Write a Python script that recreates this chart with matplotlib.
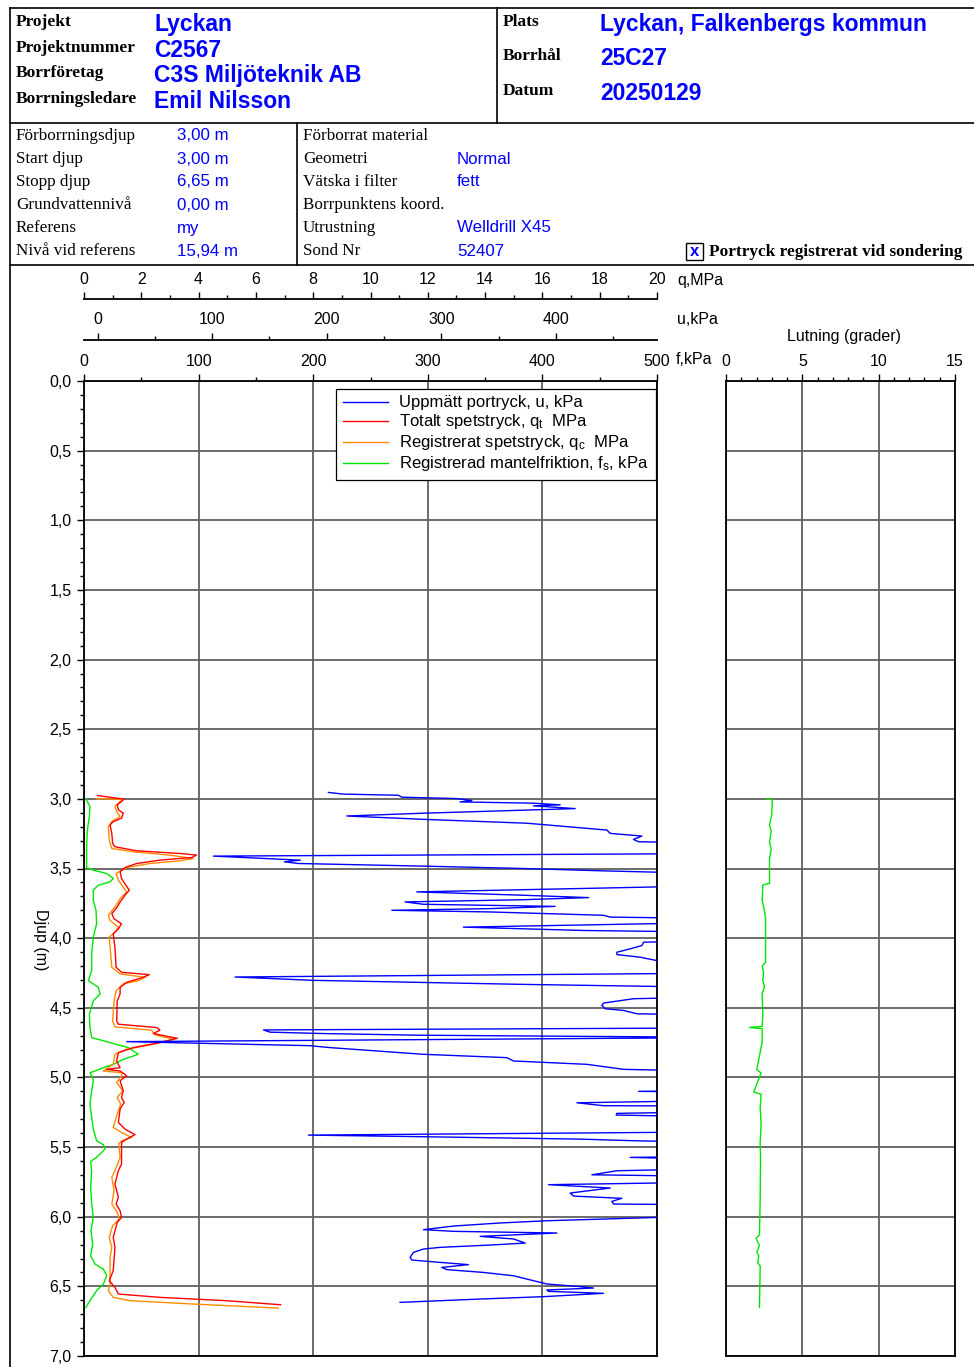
import matplotlib
matplotlib.use("Agg")
import matplotlib.pyplot as plt
from matplotlib.lines import Line2D
from matplotlib.patches import Rectangle
from matplotlib.ticker import MultipleLocator, FuncFormatter
import numpy as np

plt.rcParams['font.family'] = ['Liberation Sans', 'DejaVu Sans']
plt.rcParams['mathtext.fontset'] = 'custom'
plt.rcParams['mathtext.rm'] = 'Liberation Sans'
plt.rcParams['mathtext.it'] = 'Liberation Sans:italic'

# ---- header data ----
head_left_labels = ["Projekt", "Projektnummer", "Borrföretag", "Borrningsledare"]
head_left_values = ["Lyckan", "C2567", "C3S Miljöteknik AB", "Emil Nilsson"]
head_right_labels = ["Plats", "Borrhål", "Datum"]
head_right_values = ["Lyckan, Falkenbergs kommun", "25C27", "20250129"]

info_left_labels = ["Förborrningsdjup", "Start djup", "Stopp djup", "Grundvattennivå", "Referens", "Nivå vid referens"]
info_left_values = ["3,00 m", "3,00 m", "6,65 m", "0,00 m", "my", "15,94 m"]
info_mid_labels = ["Förborrat material", "Geometri", "Vätska i filter", "Borrpunktens koord.", "Utrustning", "Sond Nr"]
info_mid_values = ["", "Normal", "fett", "", "Welldrill X45", "52407"]

# ---- sounding data: (depth m, value) ----
qt_profile = np.array([
    (2.976, 0.47), (3.002, 1.40), (3.019, 1.31), (3.043, 1.16), (3.079, 1.20), (3.103, 1.37),
    (3.139, 1.31), (3.163, 1.02), (3.188, 0.91), (3.248, 0.97), (3.320, 1.00), (3.344, 1.08),
    (3.373, 1.84), (3.392, 3.35), (3.404, 3.93), (3.421, 3.76), (3.440, 2.65), (3.464, 1.84),
    (3.493, 1.43), (3.524, 1.26), (3.572, 1.31), (3.656, 1.58), (3.692, 1.43), (3.740, 1.26),
    (3.776, 1.16), (3.825, 0.97), (3.861, 1.05), (3.897, 1.31), (3.933, 1.20), (3.969, 1.02),
    (4.065, 1.08), (4.209, 1.12), (4.245, 1.31), (4.262, 2.28), (4.281, 2.07), (4.317, 1.49),
    (4.353, 1.26), (4.401, 1.26), (4.450, 1.16), (4.594, 1.14), (4.618, 1.20), (4.642, 2.54),
    (4.661, 2.65), (4.685, 2.42), (4.719, 3.26), (4.750, 2.65), (4.786, 1.72), (4.822, 1.20),
    (4.882, 1.14), (4.930, 1.26), (4.942, 0.79), (4.954, 1.26), (4.978, 1.43), (4.988, 1.49),
    (5.024, 1.26), (5.096, 1.37), (5.144, 1.31), (5.179, 1.40), (5.227, 1.26), (5.323, 1.20),
    (5.371, 1.43), (5.411, 1.78), (5.443, 1.49), (5.467, 1.31), (5.622, 1.31), (5.670, 1.20),
    (5.766, 1.08), (5.813, 1.14), (5.861, 1.20), (5.909, 1.12), (5.957, 1.26), (6.005, 1.31),
    (6.041, 1.16), (6.148, 1.02), (6.220, 1.08), (6.388, 1.02), (6.459, 0.88), (6.507, 1.08),
    (6.555, 1.20), (6.579, 2.65), (6.603, 4.98), (6.632, 6.86)])

qc_profile = np.array([
    (3.000, 0.42), (3.002, 1.37), (3.019, 1.26), (3.055, 1.08), (3.091, 1.14), (3.127, 1.26),
    (3.163, 0.97), (3.200, 0.85), (3.296, 0.88), (3.356, 0.97), (3.380, 1.72), (3.404, 3.00),
    (3.428, 3.81), (3.445, 3.35), (3.464, 2.30), (3.493, 1.49), (3.536, 1.12), (3.584, 1.20),
    (3.668, 1.49), (3.716, 1.26), (3.764, 1.12), (3.837, 0.85), (3.873, 0.91), (3.921, 1.20),
    (3.957, 1.08), (3.993, 0.88), (4.065, 0.91), (4.209, 0.97), (4.257, 1.26), (4.281, 2.13),
    (4.305, 1.90), (4.329, 1.37), (4.377, 1.12), (4.450, 1.05), (4.594, 1.00), (4.637, 1.08),
    (4.661, 2.36), (4.695, 2.48), (4.726, 3.12), (4.762, 2.42), (4.798, 1.49), (4.834, 1.08),
    (4.906, 1.02), (4.954, 0.67), (4.966, 1.31), (4.988, 1.31), (5.036, 1.14), (5.096, 1.35),
    (5.144, 1.16), (5.191, 1.28), (5.263, 1.16), (5.359, 1.02), (5.395, 1.31), (5.431, 1.66),
    (5.455, 1.31), (5.478, 1.21), (5.574, 1.26), (5.670, 1.08), (5.718, 0.97), (5.813, 1.05),
    (5.909, 0.97), (5.969, 1.16), (6.017, 1.23), (6.065, 1.00), (6.148, 0.88), (6.220, 0.97),
    (6.292, 0.91), (6.483, 0.91), (6.531, 0.85), (6.579, 1.02), (6.603, 1.61), (6.627, 3.81),
    (6.656, 6.78)])

fs_profile = np.array([
    (3.000, 1.7), (3.055, 5.2), (3.127, 4.7), (3.224, 2.9), (3.344, 2.3), (3.493, 2.3),
    (3.512, 8.1), (3.536, 19.8), (3.572, 25.6), (3.596, 22.7), (3.620, 12.5), (3.656, 8.1),
    (3.728, 8.1), (3.800, 10.5), (3.897, 11.0), (3.993, 8.1), (4.113, 6.7), (4.233, 6.7),
    (4.305, 3.8), (4.353, 12.5), (4.401, 14.0), (4.450, 8.1), (4.546, 4.7), (4.642, 5.2),
    (4.714, 6.7), (4.750, 22.7), (4.786, 38.7), (4.834, 47.4), (4.870, 34.3), (4.906, 25.6),
    (4.930, 16.9), (4.954, 9.6), (4.966, 5.2), (5.002, 7.6), (5.024, 8.1), (5.096, 6.7),
    (5.191, 5.2), (5.287, 6.7), (5.371, 8.1), (5.455, 11.0), (5.483, 16.9), (5.514, 18.3),
    (5.574, 11.0), (5.603, 5.8), (5.670, 6.7), (5.789, 5.8), (5.909, 6.7), (6.005, 8.1),
    (6.100, 6.1), (6.196, 7.6), (6.280, 5.8), (6.340, 9.6), (6.376, 16.9), (6.423, 19.8),
    (6.483, 16.9), (6.531, 11.0), (6.603, 5.2), (6.651, 1.7)])

# pore pressure; values above the scale (~490 kPa) run off the right edge
u_profile = np.array([
    (2.954, 201.5), (2.966, 214.6), (2.974, 262.6), (2.988, 265.5), (2.998, 313.5), (3.012, 326.6),
    (3.022, 316.4), (3.031, 380.4), (3.043, 403.7), (3.050, 380.4), (3.070, 416.8), (3.103, 284.4),
    (3.123, 217.5), (3.147, 284.4), (3.175, 374.6), (3.185, 389.2), (3.224, 444.5), (3.248, 447.4),
    (3.267, 475.0), (3.291, 467.7), (3.308, 472.1), (3.320, 560.0), (3.392, 560.0), (3.411, 101.1),
    (3.440, 177.0), (3.452, 163.0), (3.464, 175.0), (3.483, 284.4), (3.500, 371.7), (3.517, 441.6),
    (3.541, 560.0), (3.620, 560.0), (3.668, 278.6), (3.692, 371.7), (3.709, 428.5), (3.724, 371.7),
    (3.740, 268.4), (3.757, 284.4), (3.772, 399.3), (3.788, 342.6), (3.800, 256.8), (3.812, 342.6),
    (3.836, 441.6), (3.849, 447.4), (3.861, 560.0), (3.885, 560.0), (3.921, 319.3), (3.933, 371.7),
    (3.945, 424.2), (3.959, 560.0), (4.017, 560.0), (4.029, 476.5), (4.053, 475.0), (4.077, 464.8),
    (4.101, 453.2), (4.118, 453.2), (4.137, 473.6), (4.161, 488.0), (4.170, 560.0), (4.250, 560.0),
    (4.279, 120.0), (4.303, 188.4), (4.332, 371.7), (4.356, 560.0), (4.418, 560.0), (4.435, 467.7),
    (4.466, 441.6), (4.483, 440.1), (4.507, 443.0), (4.519, 459.0), (4.543, 470.6), (4.555, 560.0),
    (4.644, 560.0), (4.659, 144.8), (4.675, 150.6), (4.685, 197.1), (4.697, 281.5), (4.713, 560.0),
    (4.743, 25.5), (4.772, 185.0), (4.786, 203.0), (4.834, 284.4), (4.858, 357.2), (4.882, 363.0),
    (4.906, 427.0), (4.942, 459.0), (4.959, 560.0), (5.091, 560.0), (5.100, 472.1), (5.108, 560.0),
    (5.163, 560.0), (5.182, 418.3), (5.203, 441.5), (5.206, 560.0), (5.244, 560.0), (5.258, 453.2),
    (5.270, 452.6), (5.287, 560.0), (5.390, 560.0), (5.414, 184.0), (5.426, 287.3), (5.443, 421.2),
    (5.455, 470.6), (5.469, 560.0), (5.565, 560.0), (5.574, 464.8), (5.593, 560.0), (5.651, 560.0),
    (5.670, 453.2), (5.699, 431.4), (5.713, 560.0), (5.749, 560.0), (5.770, 393.5), (5.794, 447.4),
    (5.830, 412.4), (5.852, 415.4), (5.868, 457.5), (5.890, 448.8), (5.909, 450.3), (5.916, 560.0),
    (5.995, 560.0), (6.005, 489.0), (6.029, 392.1), (6.045, 351.3), (6.067, 310.6), (6.093, 284.4),
    (6.105, 310.6), (6.117, 400.8), (6.141, 333.9), (6.160, 363.0), (6.189, 373.2), (6.201, 348.4),
    (6.220, 299.0), (6.232, 284.4), (6.256, 275.7), (6.292, 272.8), (6.311, 274.2), (6.328, 299.0),
    (6.344, 323.7), (6.364, 300.4), (6.380, 304.8), (6.400, 336.8), (6.424, 363.0), (6.459, 380.4),
    (6.483, 392.1), (6.502, 421.2), (6.512, 432.8), (6.526, 392.1), (6.536, 393.5), (6.550, 441.5),
    (6.574, 389.2), (6.591, 333.9), (6.615, 264.0)])

incl_profile = np.array([
    (3.000, 2.63), (3.000, 2.96), (3.012, 3.03), (3.111, 3.00), (3.186, 2.85), (3.235, 2.96),
    (3.309, 2.85), (3.359, 2.96), (3.433, 2.85), (3.606, 2.85), (3.619, 2.41), (3.730, 2.37),
    (3.804, 2.52), (3.854, 2.59), (4.176, 2.59), (4.200, 2.37), (4.250, 2.46), (4.300, 2.41),
    (4.349, 2.52), (4.399, 2.37), (4.547, 2.41), (4.634, 2.37), (4.641, 1.54), (4.651, 2.37),
    (4.745, 2.37), (4.943, 2.02), (4.968, 2.30), (5.104, 1.82), (5.121, 2.30), (5.215, 2.24),
    (5.339, 2.30), (5.463, 2.24), (5.587, 2.26), (5.871, 2.24), (6.131, 2.19), (6.156, 1.97),
    (6.205, 2.19), (6.255, 2.02), (6.280, 2.15), (6.329, 2.08), (6.354, 2.24), (6.651, 2.19)])

legend_labels = ["Uppmätt portryck, u, kPa",
                 "Totalt spetstryck, q$_\\mathregular{t}$  MPa",
                 "Registrerat spetstryck, q$_\\mathregular{c}$  MPa",
                 "Registrerad mantelfriktion, f$_\\mathregular{s}$, kPa"]

BLUE = '#0000ff'
RED = '#ff0000'
ORANGE = '#ff8c00'
GREEN = '#00e600'
GRID = '#606060'

W, H = 974, 1367
fig = plt.figure(figsize=(W / 100, H / 100), dpi=100)


def fx(x):
    return x / W


def fy(y):
    return 1 - y / H


def hline(y, x0, x1, lw=1.2):
    fig.add_artist(Line2D([fx(x0), fx(x1)], [fy(y), fy(y)], transform=fig.transFigure, color='black', lw=lw))


def vline(x, y0, y1, lw=1.2):
    fig.add_artist(Line2D([fx(x), fx(x)], [fy(y0), fy(y1)], transform=fig.transFigure, color='black', lw=lw))


# ---- header frame ----
hline(8, 10, 974)
hline(123, 10, 974)
hline(265, 10, 974)
vline(10, 8, 1367)
vline(497, 8, 123)
vline(297, 123, 265)

serif = 'Liberation Serif'
for i, (lab, val) in enumerate(zip(head_left_labels, head_left_values)):
    y = 22 + i * 25.7
    fig.text(fx(16), fy(y), lab, family=serif, fontweight='bold', fontsize=12.5, va='center')
    fig.text(fx(154), fy(y + 2.5), val, fontweight='bold', fontsize=16.5, color=BLUE, va='center')
for lab, val, y in zip(head_right_labels, head_right_values, [22, 56, 91]):
    fig.text(fx(503), fy(y), lab, family=serif, fontweight='bold', fontsize=12.5, va='center')
    fig.text(fx(600), fy(y + 2.5), val, fontweight='bold', fontsize=16.5, color=BLUE, va='center')

for i in range(6):
    y = 136 + i * 23
    fig.text(fx(16), fy(y), info_left_labels[i], family=serif, fontsize=12.3, va='center')
    fig.text(fx(177), fy(y), info_left_values[i], fontsize=12.2, color=BLUE, va='center')
    fig.text(fx(303), fy(y), info_mid_labels[i], family=serif, fontsize=12.3, va='center')
    if info_mid_values[i]:
        fig.text(fx(457), fy(y), info_mid_values[i], fontsize=12.2, color=BLUE, va='center')

fig.add_artist(Rectangle((fx(686), fy(260)), fx(17), 17 / H, transform=fig.transFigure,
                         fill=False, edgecolor='black', lw=1.0))
fig.text(fx(694.5), fy(251.5), "x", fontsize=12, fontweight='bold', color=BLUE, ha='center', va='center')
fig.text(fx(709), fy(252), "Portryck registrerat vid sondering", family=serif,
         fontweight='bold', fontsize=12.4, va='center')

# ---- main axes (f, kPa) ----
TICK_FS = 11.5
ax = fig.add_axes([fx(84), fy(1356), (657 - 84) / W, (1356 - 381) / H])
ax.set_xlim(0, 500)
ax.set_ylim(7, 0)

# q axis (MPa)
ax_q = ax.twiny()
ax_q.set_xlim(0, 20)
ax_q.spines['top'].set_position(('outward', 82 * 0.72))
for s in ['left', 'right', 'bottom']:
    ax_q.spines[s].set_visible(False)
ax_q.spines['top'].set_linewidth(1.3)
ax_q.xaxis.set_major_locator(MultipleLocator(2))
ax_q.xaxis.set_minor_locator(MultipleLocator(1))
ax_q.tick_params(which='both', direction='out', labelsize=TICK_FS, width=1.0)
ax_q.tick_params(which='major', length=5, pad=4)
ax_q.tick_params(which='minor', length=3)

# u axis (kPa), offset from the f scale
ax_u = ax.twiny()
ax_u.set_xlim(-11.8, 488.2)
ax_u.spines['top'].set_position(('outward', 41 * 0.72))
for s in ['left', 'right', 'bottom']:
    ax_u.spines[s].set_visible(False)
ax_u.spines['top'].set_linewidth(1.3)
ax_u.xaxis.set_major_locator(MultipleLocator(100))
ax_u.xaxis.set_minor_locator(MultipleLocator(50))
ax_u.tick_params(which='both', direction='out', labelsize=TICK_FS, width=1.0)
ax_u.tick_params(which='major', length=5, pad=4)
ax_u.tick_params(which='minor', length=3)

# f axis on top of the main axes (twiny moved it to the bottom)
ax.xaxis.tick_top()
ax.xaxis.set_label_position('top')
ax.xaxis.set_major_locator(MultipleLocator(100))
ax.xaxis.set_minor_locator(MultipleLocator(50))
ax.yaxis.set_major_locator(MultipleLocator(0.5))
ax.yaxis.set_minor_locator(MultipleLocator(0.1))
ax.yaxis.set_major_formatter(FuncFormatter(lambda v, p: f"{v:.1f}".replace('.', ',')))
ax.tick_params(which='both', direction='out', labelsize=TICK_FS, width=1.0, color='black')
ax.tick_params(axis='x', which='both', bottom=False, labelbottom=False, top=True, labeltop=True)
ax.tick_params(which='major', length=5, pad=4)
ax.tick_params(which='minor', length=3)
ax.grid(True, which='major', color=GRID, lw=1.3)
for s in ax.spines.values():
    s.set_linewidth(1.3)

ax.plot(fs_profile[:, 1], fs_profile[:, 0], color=GREEN, lw=1.0)
l_qc, = ax_q.plot(qc_profile[:, 1], qc_profile[:, 0], color=ORANGE, lw=1.0)
l_qt, = ax_q.plot(qt_profile[:, 1], qt_profile[:, 0], color=RED, lw=1.0)
l_u, = ax_u.plot(u_profile[:, 1], u_profile[:, 0], color=BLUE, lw=1.0)

l_fs = Line2D([], [], color=GREEN, lw=1.0)
leg = ax_u.legend([l_u, l_qt, l_qc, l_fs], legend_labels, loc='upper left',
                  bbox_to_anchor=(0.44, 0.992), bbox_transform=ax.transAxes,
                  fontsize=12, frameon=True, fancybox=False, framealpha=1,
                  edgecolor='black', handlelength=2.7, handletextpad=0.7,
                  labelspacing=0.12, borderpad=0.4, borderaxespad=0)
leg.get_frame().set_linewidth(0.9)

fig.text(fx(677), fy(280), "q,MPa", fontsize=TICK_FS, va='center')
fig.text(fx(677), fy(320), "u,kPa", fontsize=TICK_FS, va='center')
fig.text(fx(676), fy(360), "f,kPa", fontsize=TICK_FS, va='center')
fig.text(fx(40), fy(940), "Djup (m)", fontsize=TICK_FS, rotation=270, ha='center', va='center')

# ---- inclination axes ----
ax_i = fig.add_axes([fx(726), fy(1356), (955 - 726) / W, (1356 - 381) / H])
ax_i.set_xlim(0, 15)
ax_i.set_ylim(7, 0)
ax_i.xaxis.tick_top()
ax_i.xaxis.set_major_locator(MultipleLocator(5))
ax_i.xaxis.set_minor_locator(MultipleLocator(1))
ax_i.yaxis.set_major_locator(MultipleLocator(0.5))
ax_i.tick_params(axis='y', which='both', left=False, labelleft=False)
ax_i.tick_params(axis='x', which='both', direction='out', labelsize=TICK_FS, width=1.0)
ax_i.tick_params(axis='x', which='major', length=5, pad=4)
ax_i.tick_params(axis='x', which='minor', length=3)
ax_i.grid(True, which='major', color=GRID, lw=1.3)
for s in ax_i.spines.values():
    s.set_linewidth(1.3)
ax_i.plot(incl_profile[:, 1], incl_profile[:, 0], color=GREEN, lw=1.0)
fig.text(fx(844), fy(337), "Lutning (grader)", fontsize=TICK_FS, ha='center', va='center')

fig.savefig("out.png", dpi=100)
